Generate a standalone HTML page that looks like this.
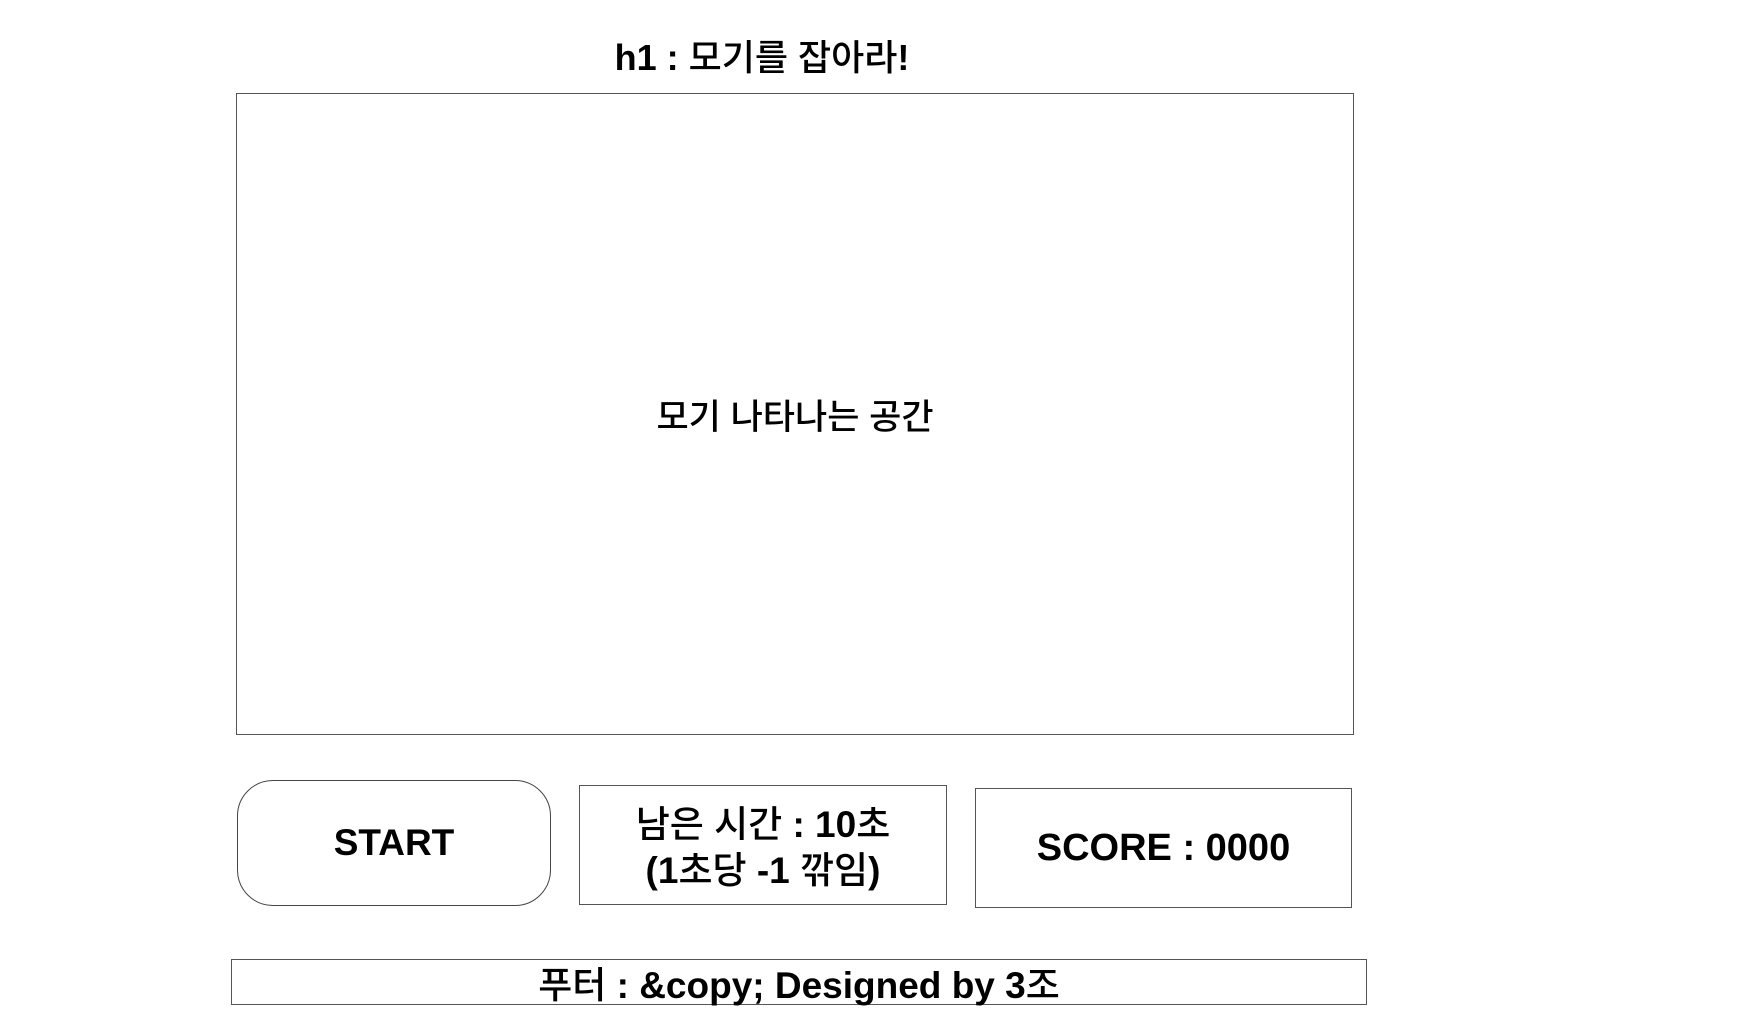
<!DOCTYPE html>
<html><head><meta charset="utf-8"><style>
html,body{margin:0;padding:0;background:#fff;width:1751px;height:1017px;overflow:hidden}
body{position:relative;font-family:"Liberation Sans","Noto Sans CJK KR",sans-serif;color:#000}
.abs{position:absolute;box-sizing:border-box;display:flex;align-items:center;justify-content:center;text-align:center}
</style></head><body>
<div class="abs" style="left:562px;top:33px;width:400px;height:44px;font-size:36px;font-weight:bold"><span>h1 : <span style="font-weight:500">모기를 잡아라</span>!</span></div>
<div class="abs" style="left:236px;top:93px;width:1118px;height:642px;border:1.5px solid #555;font-size:35px;font-weight:500">모기 나타나는 공간</div>
<div class="abs" style="left:237px;top:780px;width:314px;height:126px;border:1.5px solid #444;border-radius:36px;font-size:37px;font-weight:bold">START</div>
<div class="abs" style="left:579px;top:785px;width:368px;height:120px;border:1.5px solid #555;font-size:37px;line-height:46px;font-weight:500;padding-top:6px"><span><span>남은 시간</span> <b>: 10</b>초<br><b>(1</b>초당 <b>-1</b> 깎임<b>)</b></span></div>
<div class="abs" style="left:975px;top:788px;width:377px;height:120px;border:1.5px solid #555;font-size:38px;font-weight:bold">SCORE : 0000</div>
<div class="abs" style="left:231px;top:959px;width:1136px;height:46px;border:1.5px solid #555;font-size:37px;font-weight:500"><span>푸터 <b>: &amp;copy; Designed by 3</b>조</span></div>
</body></html>
